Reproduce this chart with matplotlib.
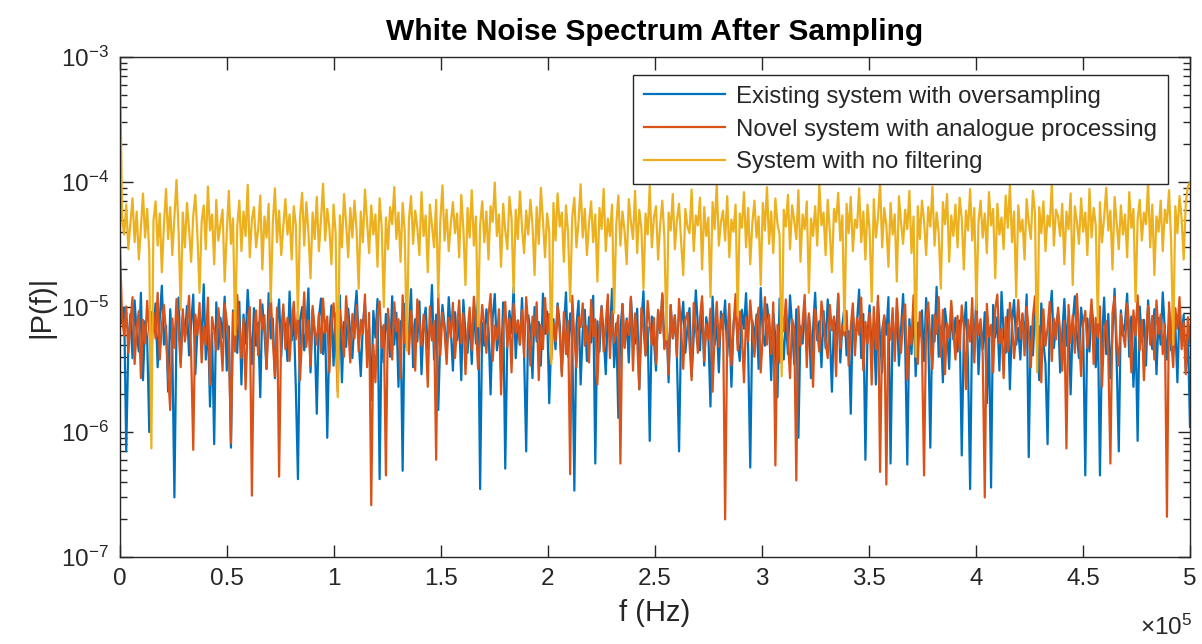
import matplotlib
matplotlib.use("Agg")
import matplotlib.pyplot as plt
from matplotlib.ticker import LogLocator, FixedLocator, FuncFormatter
import numpy as np

plt.rcParams["font.family"] = ["Liberation Sans", "DejaVu Sans"]
plt.rcParams["mathtext.default"] = "regular"

# spectrum magnitudes, in units of 1e-6,
# evenly spaced bins from 0 to f_max
f_max = 5e5

existing = [
    12, 7.4, 9.9, 0.7, 5.2, 8.8, 3.9, 11.3, 6.1, 4.4, 13.0, 2.6, 7.7, 5.5, 1.0, 9.1,
    6.4, 10.7, 3.3, 8.0, 14.8, 5.0, 7.1, 2.1, 9.6, 4.7, 0.3, 6.8, 11.9, 3.6, 8.5, 5.8,
    10.2, 4.1, 7.3, 12.6, 2.9, 6.6, 9.0, 5.3, 15.2, 3.8, 7.9, 1.6, 6.2, 0.8, 10.9, 4.6,
    8.2, 5.7, 12.1, 3.1, 7.0, 0.75, 9.4, 6.0, 4.3, 11.0, 2.4, 8.7, 5.1, 13.7, 6.9, 3.5,
    9.8, 4.9, 7.5, 1.9, 10.5, 6.3, 3.2, 12.9, 5.6, 8.1, 2.7, 7.2, 11.5, 4.0, 9.2, 6.7,
    3.7, 13.3, 5.4, 8.6, 2.2, 0.42, 7.8, 10.0, 4.5, 6.5, 14.1, 3.0, 9.5, 5.9, 1.4, 8.3,
    11.7, 4.2, 7.1, 0.9, 6.0, 10.3, 3.4, 8.9, 5.2, 12.4, 2.5, 7.6, 4.8, 9.7, 6.2, 3.9,
    8.4, 13.5, 5.5, 2.8, 7.3, 10.8, 4.4, 6.9, 1.8, 9.3, 5.7, 11.6, 0.42, 7.0, 3.6, 8.8,
    6.1, 4.0, 12.2, 5.0, 9.0, 2.3, 7.7, 0.49, 10.6, 4.7, 6.4, 13.9, 3.3, 8.0, 5.3, 11.1,
    2.9, 7.4, 9.9, 4.6, 6.3, 15.0, 3.8, 8.7, 1.5, 5.8, 10.4, 7.2, 4.1, 12.0, 6.6, 3.1,
    9.1, 5.4, 7.9, 2.6, 11.4, 6.0, 4.3, 8.5, 3.5, 10.1, 5.1, 13.2, 0.35, 7.5, 4.9, 9.6,
    6.8, 2.0, 8.2, 12.7, 4.5, 7.0, 3.2, 10.9, 0.51, 5.6, 9.3, 6.2, 14.4, 3.9, 7.8, 5.0,
    11.8, 4.2, 0.7, 8.6, 6.5, 2.7, 10.0, 5.3, 7.6, 3.4, 12.8, 6.1, 9.2, 1.7, 5.7, 8.0,
    4.6, 10.7, 7.3, 3.0, 6.7, 13.1, 4.0, 8.9, 5.5, 0.34, 7.1, 11.2, 2.4, 6.4, 9.5, 3.7,
    8.3, 5.2, 12.3, 0.56, 7.7, 4.4, 10.2, 6.0, 2.9, 9.0, 5.9, 14.0, 3.3, 7.4, 1.3, 6.6,
    10.6, 4.8, 8.1, 3.6, 11.9, 6.3, 5.1, 9.7, 2.2, 7.5, 13.4, 4.1, 6.9, 0.85, 8.4, 5.4,
    3.1, 9.4, 6.2, 12.5, 4.7, 7.9, 2.5, 10.4, 5.6, 8.6, 3.9, 0.7, 7.2, 11.0, 4.3, 6.8,
    9.8, 2.8, 5.8, 13.6, 7.0, 4.5, 10.9, 3.4, 8.3, 6.1, 1.6, 12.1, 5.0, 7.6, 3.0, 9.2,
    6.5, 11.3, 4.0, 8.0, 2.3, 7.3, 10.1, 5.3, 3.7, 9.5, 6.7, 12.9, 4.6, 0.52, 7.8, 5.5,
    8.7, 3.2, 14.2, 6.0, 4.9, 10.5, 7.4, 2.6, 9.0, 5.7, 1.9, 11.7, 6.3, 3.8, 8.2, 4.2,
    12.4, 6.9, 3.5, 9.6, 0.9, 7.0, 5.1, 10.8, 4.4, 8.5, 2.7, 6.6, 13.0, 5.4, 7.7, 3.3,
    9.3, 4.7, 11.5, 6.2, 2.1, 8.1, 5.8, 12.6, 3.6, 7.2, 10.0, 4.1, 6.4, 1.4, 9.0, 5.2,
    7.6, 13.8, 3.9, 8.8, 0.6, 6.1, 10.3, 4.5, 7.4, 2.4, 11.1, 5.6, 3.0, 8.4, 6.0, 12.0,
    0.56, 7.1, 4.8, 9.9, 3.4, 6.5, 12.7, 5.0, 0.55, 8.0, 4.2, 10.6, 2.8, 7.5, 5.9, 9.4,
    3.7, 11.8, 6.3, 0.75, 8.6, 5.3, 14.5, 4.0, 7.0, 2.5, 9.7, 6.7, 3.2, 10.2, 5.5, 8.2,
    4.4, 7.8, 0.65, 6.0, 10.9, 3.6, 0.35, 8.9, 5.1, 12.3, 2.9, 7.3, 4.6, 9.1, 1.7, 6.4,
    0.36, 10.4, 5.7, 8.3, 3.1, 13.2, 6.2, 4.3, 9.5, 2.2, 7.6, 11.4, 5.0, 6.8, 3.8, 8.7,
    5.4, 12.6, 0.63, 7.0, 4.1, 9.8, 6.5, 2.6, 10.7, 5.2, 3.5, 0.8, 8.0, 13.5, 4.7, 7.2,
    9.0, 3.0, 6.1, 11.6, 4.9, 8.5, 2.0, 7.4, 12.2, 5.8, 3.9, 9.9, 6.6, 0.45, 8.1, 4.4,
    10.3, 6.9, 3.3, 7.7, 0.45, 5.5, 11.9, 4.2, 8.8, 2.7, 6.3, 14.0, 3.6, 0.7, 9.4, 5.9,
    7.5, 12.8, 4.0, 8.4, 2.3, 6.7, 0.85, 10.1, 5.3, 7.9, 3.4, 11.3, 6.0, 4.6, 9.6, 2.9,
    8.2, 5.0, 13.1, 6.4, 3.8, 9.2, 4.5, 11.0, 7.1, 2.5, 10.0, 5.6, 8.7, 3.1, 6.2, 1.1,
]

novel = [
    30, 8.4, 5.9, 10.1, 4.3, 7.6, 12.0, 3.5, 6.8, 9.3, 2.7, 7.9, 5.1, 11.2, 6.4, 4.0,
    9.0, 5.6, 13.0, 3.8, 7.2, 10.4, 6.1, 2.9, 1.5, 8.1, 4.7, 11.6, 6.6, 3.3, 9.6, 5.3,
    7.4, 12.3, 4.2, 0.72, 8.7, 6.0, 10.8, 3.6, 7.0, 5.0, 11.9, 2.4, 8.3, 6.5, 4.5, 9.8,
    6.2, 3.1, 10.6, 7.7, 5.2, 0.82, 9.1, 4.4, 12.5, 6.9, 3.9, 8.0, 2.2, 7.3, 10.0, 0.31,
    5.7, 9.4, 4.1, 11.4, 6.7, 8.6, 3.2, 7.5, 12.8, 5.4, 2.8, 9.9, 0.44, 6.3, 10.5, 4.6,
    8.2, 3.7, 7.1, 11.0, 5.5, 9.2, 2.6, 6.0, 13.1, 4.8, 7.8, 3.4, 10.2, 6.6, 5.0, 8.9,
    4.3, 11.7, 6.2, 8.4, 3.0, 7.4, 10.7, 5.8, 2.1, 9.5, 6.8, 4.0, 12.2, 7.0, 3.6, 8.8,
    5.6, 10.3, 4.4, 7.9, 6.1, 12.6, 3.3, 9.0, 0.26, 5.0, 2.5, 8.5, 11.1, 4.7, 7.2, 0.45,
    9.7, 5.9, 3.8, 10.9, 6.4, 8.0, 2.7, 12.4, 5.2, 7.6, 4.2, 9.3, 6.7, 3.1, 11.5, 7.3,
    4.9, 8.7, 6.0, 2.3, 10.1, 5.4, 7.7, 0.6, 12.9, 4.1, 9.0, 6.5, 3.5, 8.2, 5.7, 10.8,
    3.9, 7.0, 11.3, 5.1, 8.9, 2.9, 6.3, 9.9, 4.5, 12.1, 7.5, 3.2, 5.8, 10.4, 6.9, 4.3,
    8.6, 12.7, 3.7, 7.1, 5.5, 9.6, 2.0, 6.6, 11.0, 4.8, 8.1, 3.0, 10.6, 6.2, 7.8, 5.0,
    9.4, 4.0, 12.0, 6.8, 3.4, 8.4, 5.9, 10.9, 2.6, 7.2, 4.6, 11.8, 6.1, 8.8, 3.8, 7.5,
    5.3, 10.2, 6.4, 2.8, 9.1, 4.2, 7.7, 0.46, 12.3, 5.6, 3.3, 8.3, 6.9, 10.7, 4.9, 7.0,
    3.6, 11.4, 5.8, 8.0, 2.4, 6.7, 10.0, 4.4, 7.4, 12.6, 3.9, 9.2, 5.2, 6.3, 8.6, 0.56,
    10.5, 4.7, 7.8, 6.0, 12.1, 3.1, 8.9, 5.4, 2.2, 9.8, 6.5, 4.1, 11.2, 7.1, 5.0, 8.2,
    3.5, 9.5, 6.2, 12.9, 4.6, 7.6, 2.9, 10.3, 5.7, 8.5, 4.0, 11.6, 6.6, 3.2, 7.9, 9.0,
    5.1, 2.6, 10.8, 6.9, 4.3, 8.1, 12.2, 3.7, 7.3, 5.5, 9.7, 2.1, 6.1, 11.0, 4.8, 7.7,
    8.8, 0.2, 5.9, 10.6, 3.4, 7.0, 12.7, 4.5, 9.2, 6.3, 2.5, 8.3, 5.3, 11.3, 6.8, 4.0,
    7.4, 9.9, 3.0, 6.0, 12.0, 5.0, 8.7, 4.2, 10.9, 0.54, 7.2, 3.6, 9.4, 6.4, 11.5, 5.6,
    2.7, 8.0, 6.7, 0.41, 10.1, 4.9, 7.5, 12.5, 3.3, 8.9, 5.8, 2.3, 9.6, 6.2, 4.4, 11.1,
    7.9, 5.2, 3.9, 10.4, 6.5, 8.4, 2.8, 12.8, 4.7, 7.1, 5.9, 9.3, 3.4, 6.9, 10.7, 4.1,
    8.2, 6.0, 11.9, 3.1, 7.6, 5.1, 9.0, 2.4, 10.0, 4.6, 12.3, 0.48, 6.6, 8.6, 0.38, 7.3,
    5.5, 9.8, 3.7, 11.7, 6.3, 4.3, 8.1, 10.5, 2.6, 7.0, 5.0, 12.4, 6.8, 3.5, 9.1, 4.8,
    0.45, 7.7, 10.9, 5.4, 3.2, 8.7, 6.1, 12.0, 4.0, 9.5, 2.9, 7.4, 5.7, 11.2, 6.4, 3.8,
    8.5, 4.5, 10.3, 6.9, 2.2, 7.9, 5.3, 11.8, 3.6, 9.2, 6.0, 8.0, 4.2, 0.3, 10.6, 5.8,
    7.2, 3.0, 9.7, 12.6, 5.1, 6.7, 2.7, 8.3, 4.4, 10.8, 7.5, 3.9, 6.2, 11.4, 5.6, 8.9,
    4.1, 10.0, 6.5, 3.3, 8.4, 12.2, 5.0, 7.0, 2.5, 9.6, 4.9, 6.8, 11.0, 3.7, 8.1, 5.5,
    9.9, 6.3, 3.1, 7.8, 0.74, 10.4, 5.2, 8.6, 4.3, 12.7, 6.0, 2.8, 7.4, 9.3, 4.7, 6.9,
    11.5, 3.5, 8.2, 5.7, 10.1, 2.3, 6.6, 7.7, 4.0, 0.56, 9.0, 12.1, 5.3, 3.4, 8.8, 6.2,
    4.8, 10.7, 7.1, 3.0, 9.4, 5.9, 12.4, 4.5, 7.9, 2.6, 6.4, 10.2, 5.0, 8.5, 3.8, 11.3,
    6.1, 8.7, 4.2, 7.3, 0.21, 10.9, 5.4, 3.3, 9.8, 6.7, 12.0, 4.6, 7.6, 2.9, 8.3, 5.2,
]

no_filter = [
    1000, 52, 38, 66, 29, 47, 74, 33, 58, 24, 43, 81, 36, 61, 27, 0.74,
    49, 70, 31, 56, 19, 45, 88, 35, 63, 26, 52, 104, 40, 9.5, 57, 30,
    68, 42, 23, 54, 79, 37, 13, 48, 65, 29, 92, 41, 55, 22, 72, 34,
    46, 60, 16, 39, 85, 32, 51, 6.0, 44, 71, 28, 58, 37, 95, 25, 50,
    63, 30, 42, 78, 20, 53, 36, 67, 11, 47, 89, 33, 59, 26, 44, 73,
    38, 55, 24, 64, 45, 8.0, 52, 82, 31, 69, 40, 17, 57, 35, 76, 28,
    50, 97, 34, 61, 43, 22, 66, 39, 1.9, 54, 30, 80, 47, 25, 62, 36,
    71, 41, 14, 58, 33, 87, 48, 27, 65, 38, 55, 21, 74, 44, 10, 52,
    29, 63, 46, 91, 35, 57, 23, 68, 40, 4.5, 50, 77, 32, 59, 43, 26,
    83, 37, 54, 19, 66, 45, 30, 72, 12, 49, 94, 34, 60, 28, 47, 69,
    39, 56, 25, 79, 42, 15, 62, 36, 86, 31, 53, 7.0, 45, 70, 33, 58,
    24, 64, 48, 99, 37, 55, 21, 67, 41, 29, 76, 51, 13, 60, 35, 84,
    43, 27, 59, 38, 72, 46, 18, 63, 32, 90, 49, 25, 56, 40, 3.5, 68,
    34, 81, 44, 57, 23, 65, 39, 11, 53, 75, 30, 48, 96, 36, 61, 26,
    47, 70, 33, 55, 16, 62, 42, 88, 28, 51, 37, 66, 9.0, 45, 78, 31,
    58, 40, 22, 73, 48, 35, 85, 27, 60, 43, 14, 56, 38, 93, 30, 52,
    64, 24, 46, 71, 36, 5.5, 57, 41, 80, 29, 50, 67, 33, 18, 61, 44,
    39, 87, 28, 54, 45, 75, 20, 63, 37, 52, 12, 69, 42, 98, 31, 48,
    59, 34, 77, 25, 50, 40, 66, 8.5, 56, 43, 83, 30, 62, 22, 47, 71,
    36, 53, 15, 68, 41, 91, 32, 58, 27, 74, 46, 38, 2.8, 60, 44, 79,
    29, 65, 49, 35, 86, 23, 55, 42, 70, 13, 51, 37, 64, 31, 95, 45,
    57, 26, 72, 40, 19, 61, 48, 82, 34, 54, 6.5, 67, 39, 76, 28, 50,
    43, 89, 33, 58, 24, 66, 41, 11, 73, 36, 52, 100, 30, 62, 45, 21,
    68, 38, 55, 16, 77, 47, 32, 60, 42, 85, 27, 53, 4.0, 64, 35, 71,
    49, 26, 63, 44, 92, 31, 57, 39, 14, 69, 46, 80, 23, 54, 37, 66,
    30, 75, 51, 20, 59, 41, 88, 34, 62, 9.5, 48, 71, 36, 56, 27, 83,
    45, 61, 17, 67, 38, 52, 29, 78, 43, 94, 33, 58, 12, 65, 40, 50,
    24, 73, 47, 35, 85, 56, 3.0, 63, 39, 70, 28, 54, 44, 97, 31, 60,
    53, 37, 67, 22, 58, 42, 81, 15, 64, 48, 32, 74, 40, 57, 26, 88,
    36, 62, 45, 7.5, 69, 33, 52, 90, 41, 59, 20, 76, 47, 29, 65, 38,
    55, 25, 83, 43, 61, 11, 50, 72, 34, 57, 46, 99, 30, 66, 18, 53,
    40, 71, 28, 60, 47, 86, 33, 5.0, 64, 39, 77, 51, 24, 68, 92, 100,
]

labels = [
    "Existing system with oversampling",
    "Novel system with analogue processing",
    "System with no filtering",
]
colors = ["#0072BD", "#D95319", "#EDB120"]
text_col = "#262626"

fig = plt.figure(figsize=(12.02, 6.44), dpi=100)
ax = fig.add_axes([0.0998, 0.135, 0.8902, 0.7765])

for vals, lab, col in zip([existing, novel, no_filter], labels, colors):
    y = np.array(vals) * 1e-6
    f = np.linspace(0, f_max, len(y))
    ax.plot(f, y, color=col, lw=1.6, label=lab)

ax.set_yscale("log")
ax.set_xlim(0, f_max)
ax.set_ylim(1e-7, 1e-3)
ax.yaxis.set_major_locator(LogLocator(base=10, numticks=10))
ax.yaxis.set_minor_locator(LogLocator(base=10, subs=np.arange(2, 10), numticks=10))
ax.xaxis.set_major_locator(FixedLocator(np.arange(0, 5.01e5, 0.5e5)))
ax.xaxis.set_major_formatter(FuncFormatter(lambda v, p: f"{v / 1e5:g}"))

ax.tick_params(which="both", direction="in", top=True, right=True,
               colors=text_col, labelsize=17.5, width=1.0)
ax.tick_params(which="major", length=9, pad=8)
ax.tick_params(which="minor", length=5)
for s in ax.spines.values():
    s.set_color(text_col)
    s.set_linewidth(1.0)

ax.set_title("White Noise Spectrum After Sampling", fontsize=21.5,
             fontweight="bold", color="black", pad=12)
ax.set_xlabel("f (Hz)", fontsize=21, color=text_col, labelpad=6)
ax.set_ylabel("|P(f)|", fontsize=21, color=text_col, labelpad=4)
fig.text(0.992, 0.006, r"$\times10^{5}$", ha="right", va="bottom",
         fontsize=17.5, color=text_col)

leg = ax.legend(loc="upper right", bbox_to_anchor=(0.9795, 0.964), fontsize=17.3,
                frameon=True, fancybox=False, framealpha=1, edgecolor="#262626",
                handlelength=3.4, handletextpad=0.45, borderpad=0.45,
                labelspacing=0.45, borderaxespad=0)
leg.get_frame().set_linewidth(1.0)
for t in leg.get_texts():
    t.set_color(text_col)

fig.savefig("out.png", dpi=100)
